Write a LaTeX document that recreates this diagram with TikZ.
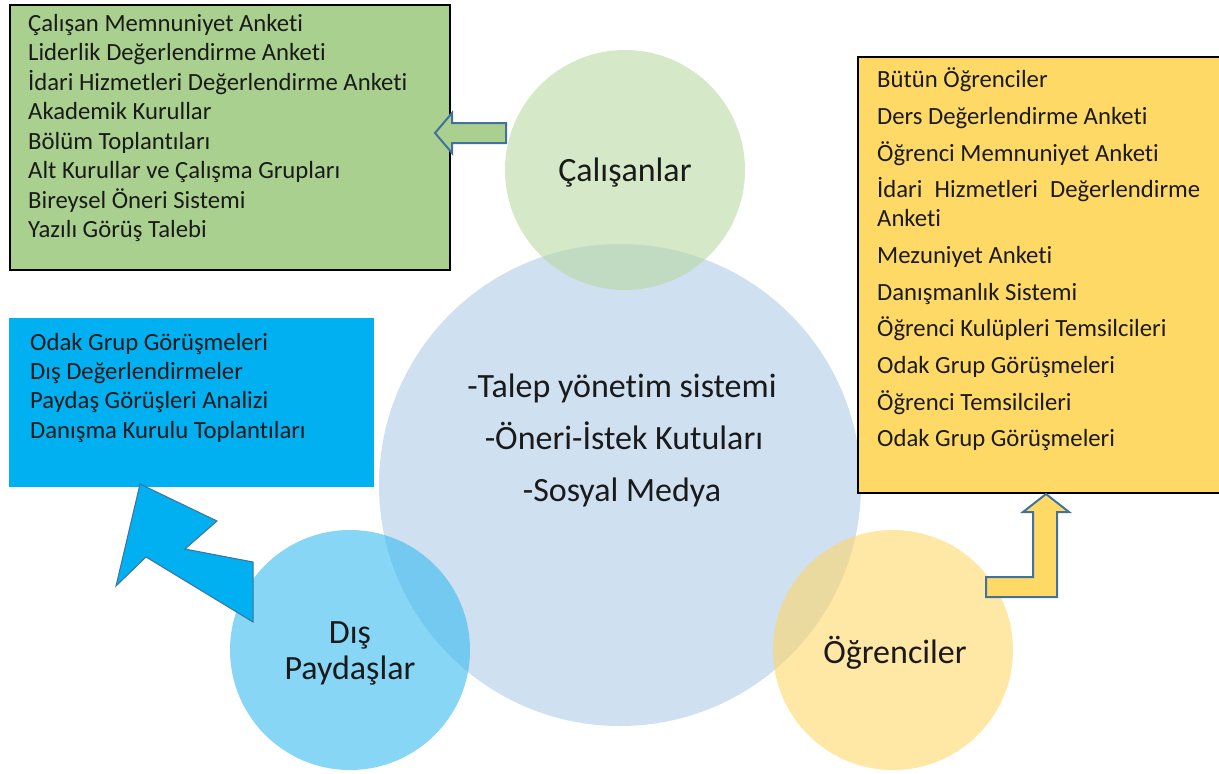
\documentclass[tikz,border=0pt]{standalone}
\usepackage{fontspec}
\setmainfont{Carlito}[Ligatures=NoCommon]
\definecolor{bigc}{HTML}{CFE0F1}
\definecolor{greenc}{RGB}{185,217,163}
\definecolor{bluec}{RGB}{55,187,238}
\definecolor{yellowc}{RGB}{255,215,107}
\definecolor{greenbox}{HTML}{A9D08E}
\definecolor{bluebox}{HTML}{00B0F0}
\definecolor{yellowbox}{HTML}{FFD966}
\definecolor{arrowline}{HTML}{41719C}
\definecolor{txt}{HTML}{1A1A1A}
\begin{document}
\begin{tikzpicture}[x=1pt,y=-1pt,
  bigtext/.style={font=\fontsize{34}{40}\selectfont, text=txt, inner sep=0pt, anchor=base},
  boxline/.style={font=\fontsize{24.7}{29}\selectfont, text=txt, inner sep=0pt, anchor=base west},
  smallcirc/.style={fill opacity=0.6, draw=none},
  blockarrow/.style={draw=arrowline, line width=2pt, line join=miter}
]
\useasboundingbox (0,0) rectangle (1219,774);
% circles
\fill[bigc] (620,485) circle (241);
\fill[greenc, smallcirc] (625,170) circle (120);
\fill[bluec, smallcirc] (350,650) circle (120);
\fill[yellowc, smallcirc] (893,650) circle (120);
% circle labels
\node[bigtext] (cal) at (625,181) {Çalışanlar};
\node[bigtext] (dis1) at (350,643) {Dış};
\node[bigtext] (dis2) at (350,679) {Paydaşlar};
\node[bigtext] (ogr) at (895,663) {Öğrenciler};
\node[bigtext] (c1) at (622,397) {-Talep yönetim sistemi};
\node[bigtext] (c2) at (624,449) {-Öneri-İstek Kutuları};
\node[bigtext] (c3) at (622,501) {-Sosyal Medya};
% green box
\draw[fill=greenbox, draw=black, line width=1.5pt] (10,5) rectangle (450,270);
\foreach \t [count=\i] in {Çalışan Memnuniyet Anketi, Liderlik Değerlendirme Anketi, İdari Hizmetleri Değerlendirme Anketi, Akademik Kurullar, Bölüm Toplantıları, Alt Kurullar ve Çalışma Grupları, Bireysel Öneri Sistemi, Yazılı Görüş Talebi}
  \node[boxline] (g\i) at (28,{31+(\i-1)*29.5}) {\t};
% blue box
\fill[bluebox] (9,318) rectangle (374,487);
\foreach \t [count=\i] in {Odak Grup Görüşmeleri, Dış Değerlendirmeler, Paydaş Görüşleri Analizi, Danışma Kurulu Toplantıları}
  \node[boxline] (b\i) at (30,{350+(\i-1)*29.4}) {\t};
% yellow box
\draw[fill=yellowbox, draw=black, line width=1.5pt] (858,57) rectangle (1219.5,493);
\node[boxline] (y1) at (877,87) {Bütün Öğrenciler};
\node[boxline] (y2) at (877,124) {Ders Değerlendirme Anketi};
\node[boxline] (y3) at (877,161) {Öğrenci Memnuniyet Anketi};
\node[boxline] (y4) at (877,197) {\makebox[323pt][s]{İdari\hfill Hizmetleri\hfill Değerlendirme}};
\node[boxline] (y5) at (877,226) {Anketi};
\node[boxline] (y6) at (877,263) {Mezuniyet Anketi};
\node[boxline] (y7) at (877,300) {Danışmanlık Sistemi};
\node[boxline] (y8) at (877,336) {Öğrenci Kulüpleri Temsilcileri};
\node[boxline] (y9) at (877,373) {Odak Grup Görüşmeleri};
\node[boxline] (y10) at (877,410) {Öğrenci Temsilcileri};
\node[boxline] (y11) at (877,446) {Odak Grup Görüşmeleri};
% green arrow (left)
\draw[blockarrow, fill=greenbox] (506,123) -- (452,123) -- (452,113) -- (435,133) -- (452,153) -- (452,143) -- (506,143) -- cycle;
% yellow bent-up arrow
\draw[blockarrow, fill=yellowbox] (986,577) -- (1033,577) -- (1033,512) -- (1023,512) -- (1046,494) -- (1069,512) -- (1057,512) -- (1057,597) -- (986,597) -- cycle;
% blue zigzag arrow
\draw[draw=arrowline, line width=1pt, fill=bluebox] (140,484) -- (217,521) -- (185,549) -- (253,562) -- (253,622) -- (146,557) -- (116,586) -- cycle;
\end{tikzpicture}
\end{document}
